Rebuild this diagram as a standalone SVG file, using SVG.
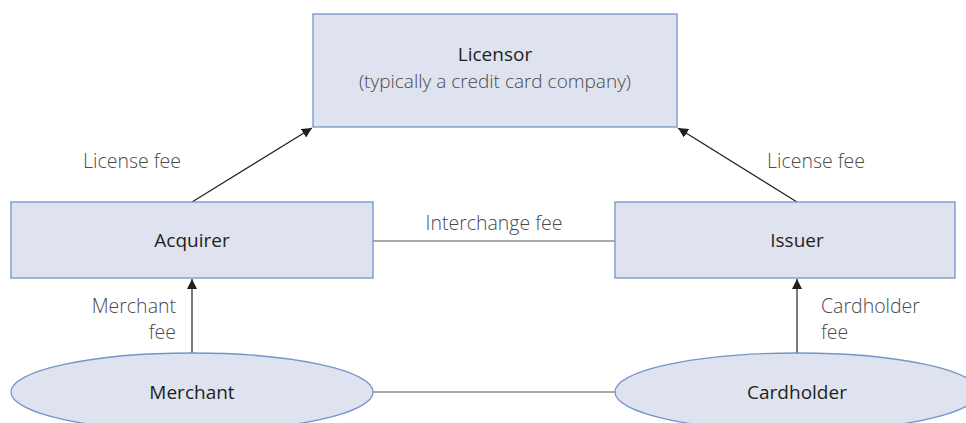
<svg xmlns="http://www.w3.org/2000/svg" width="966" height="423" viewBox="0 0 966 423">
  <defs>
    <style>
      .box { fill: #dfe3ef; stroke: #7395c8; stroke-width: 1.3; }
      .name { font-family: "Open Sans", Lato, "Liberation Sans", sans-serif; font-size: 19px; fill: #231f20; text-anchor: middle; }
      .sub { font-family: "Open Sans", Lato, "Liberation Sans", sans-serif; font-weight: 300; font-size: 19px; fill: #4a4a4a; text-anchor: middle; }
      .lbl { font-family: "Open Sans", Lato, "Liberation Sans", sans-serif; font-weight: 300; font-size: 19.5px; fill: #4a4a4a; }
      .line { stroke: #231f20; stroke-width: 1.2; fill: none; }
      .plain { stroke: #555; stroke-width: 1.2; fill: none; }
    </style>
    <marker id="arrow" viewBox="0 0 10 10" refX="10" refY="5" markerWidth="10" markerHeight="10" markerUnits="userSpaceOnUse" orient="auto">
      <path d="M0,0 L10,5 L0,10 z" fill="#231f20"/>
    </marker>
  </defs>

  <!-- connectors -->
  <g id="connectors">
    <line class="line" x1="192" y1="202" x2="312" y2="128" marker-end="url(#arrow)"/>
    <line class="line" x1="797" y1="202" x2="678" y2="128" marker-end="url(#arrow)"/>
    <line class="plain" x1="373" y1="241" x2="615" y2="241"/>
    <line class="plain" x1="373" y1="392" x2="615" y2="392"/>
    <line class="line" x1="192" y1="353" x2="192" y2="279" marker-end="url(#arrow)"/>
    <line class="line" x1="797" y1="353" x2="797" y2="279" marker-end="url(#arrow)"/>
    <text class="lbl" x="83" y="168">License fee</text>
    <text class="lbl" x="767" y="168">License fee</text>
    <text class="lbl" x="494" y="230" text-anchor="middle">Interchange fee</text>
    <text class="lbl" x="176" y="313" text-anchor="end">Merchant</text>
    <text class="lbl" x="176" y="339" text-anchor="end">fee</text>
    <text class="lbl" x="821" y="313">Cardholder</text>
    <text class="lbl" x="821" y="339">fee</text>
  </g>

  <g id="licensor">
    <rect class="box" x="313" y="14" width="364" height="113"/>
    <text class="name" x="495" y="61">Licensor</text>
    <text class="sub" x="495" y="88">(typically a credit card company)</text>
  </g>

  <g id="acquirer">
    <rect class="box" x="11" y="202" width="362" height="76"/>
    <text class="name" x="192" y="247">Acquirer</text>
  </g>

  <g id="issuer">
    <rect class="box" x="615" y="202" width="340" height="76"/>
    <text class="name" x="797" y="247">Issuer</text>
  </g>

  <g id="merchant">
    <ellipse class="box" cx="192" cy="392" rx="181" ry="39"/>
    <text class="name" x="192" y="399">Merchant</text>
  </g>

  <g id="cardholder">
    <ellipse class="box" cx="797" cy="392" rx="182" ry="39"/>
    <text class="name" x="797" y="399">Cardholder</text>
  </g>
</svg>
